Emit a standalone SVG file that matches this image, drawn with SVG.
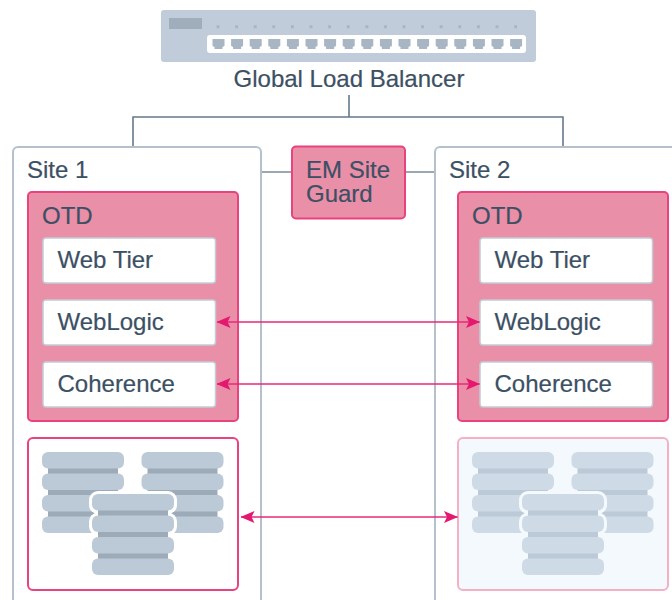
<svg xmlns="http://www.w3.org/2000/svg" width="672" height="600" viewBox="0 0 672 600">
<style>
text{font-family:"Liberation Sans",Arial,sans-serif;font-size:24px;fill:#3c5064;stroke:#3c5064;stroke-width:.2}
.conn{fill:none;stroke:#66788a;stroke-width:1.6}
.conn2{fill:none;stroke:#9aa8b5;stroke-width:2}
.site{fill:#fff;stroke:#b4c0cc;stroke-width:2}
.otd{fill:#ea8fa8;stroke:#e8437e;stroke-width:2}
.tier{fill:#fff;stroke:#c3ccd6;stroke-width:1.5}
.arr{fill:none;stroke:#e8287a;stroke-width:1.5;marker-start:url(#h);marker-end:url(#h)}
.d{fill:#bccad7}.s{fill:#9dabb9}
.dl{fill:#cedae5}.sl{fill:#bccad7}
</style>
<defs>
<marker id="h" viewBox="0 0 14 12" refX="13.500" refY="6" markerWidth="14" markerHeight="12" markerUnits="userSpaceOnUse" orient="auto-start-reverse"><path d="M0 0L14 6L0 12L3 6Z" fill="#e4186f"/></marker>
<g id="stack"><rect x="6" y="14" width="70" height="58" class="s"/><rect width="82" height="16.500" y="0" rx="6" class="d"/><rect width="82" height="16.500" y="21.500" rx="6" class="d"/><rect width="82" height="16.500" y="43" rx="6" class="d"/><rect width="82" height="16.500" y="64.500" rx="6" class="d"/></g>
<g id="stackl"><rect x="6" y="14" width="70" height="58" class="sl"/><rect width="82" height="16.500" y="0" rx="6" class="dl"/><rect width="82" height="16.500" y="21.500" rx="6" class="dl"/><rect width="82" height="16.500" y="43" rx="6" class="dl"/><rect width="82" height="16.500" y="64.500" rx="6" class="dl"/></g>
</defs>
<g id="connectors"><path class="conn" d="M349 95V117M133 147V117H563V147"/><path class="conn2" d="M261 172H292M405 172H436"/></g>
<g id="site-1"><rect class="site" x="13" y="147" width="248" height="470" rx="5"/><text x="27" y="178">Site 1</text></g>
<g id="site-2"><rect class="site" x="435" y="147" width="248" height="470" rx="5"/><text x="449" y="178">Site 2</text></g>
<g id="lb"><rect x="161" y="10" width="375" height="52" rx="3" fill="#c0ccd9"/><rect x="169" y="18" width="33" height="11" fill="#a0aebc"/><rect x="207" y="35" width="319" height="18" rx="3" fill="#fff"/>
<path fill="#a8b6c4" d="M212.500 39h12v7l-2 1v2h-8v-2l-2-1zm18.600 0h12v7l-2 1v2h-8v-2l-2-1zm18.600 0h12v7l-2 1v2h-8v-2l-2-1zm18.600 0h12v7l-2 1v2h-8v-2l-2-1zm18.600 0h12v7l-2 1v2h-8v-2l-2-1zm18.600 0h12v7l-2 1v2h-8v-2l-2-1zm18.600 0h12v7l-2 1v2h-8v-2l-2-1zm18.600 0h12v7l-2 1v2h-8v-2l-2-1zm18.600 0h12v7l-2 1v2h-8v-2l-2-1zm18.600 0h12v7l-2 1v2h-8v-2l-2-1zm18.600 0h12v7l-2 1v2h-8v-2l-2-1zm18.600 0h12v7l-2 1v2h-8v-2l-2-1zm18.600 0h12v7l-2 1v2h-8v-2l-2-1zm18.600 0h12v7l-2 1v2h-8v-2l-2-1zm18.600 0h12v7l-2 1v2h-8v-2l-2-1zm18.600 0h12v7l-2 1v2h-8v-2l-2-1zm18.600 0h12v7l-2 1v2h-8v-2l-2-1z"/>
<path stroke="#a8b6c4" stroke-width="3" stroke-dasharray="3 15.600" d="M216.500 26.800H520"/>
<text x="349" y="87" text-anchor="middle">Global Load Balancer</text></g>
<g id="em"><rect class="otd" x="292" y="146.500" width="113" height="72" rx="4"/><text x="306" y="178">EM Site</text><text x="306" y="202">Guard</text></g>
<g id="otd-1"><rect class="otd" x="28" y="192" width="210" height="229" rx="4"/><text x="42" y="224">OTD</text></g>
<g id="otd-2"><rect class="otd" x="458" y="192" width="210" height="229" rx="4"/><text x="472" y="224">OTD</text></g>
<g id="t1"><rect class="tier" x="43" y="238" width="172.500" height="45" rx="3"/><text x="57.500" y="268">Web Tier</text></g>
<g id="t2"><rect class="tier" x="43" y="300" width="172.500" height="45" rx="3"/><text x="57.500" y="330">WebLogic</text></g>
<g id="t3"><rect class="tier" x="43" y="362" width="172.500" height="45" rx="3"/><text x="57.500" y="392">Coherence</text></g>
<g id="t4"><rect class="tier" x="480" y="238" width="172.500" height="45" rx="3"/><text x="494.500" y="268">Web Tier</text></g>
<g id="t5"><rect class="tier" x="480" y="300" width="172.500" height="45" rx="3"/><text x="494.500" y="330">WebLogic</text></g>
<g id="t6"><rect class="tier" x="480" y="362" width="172.500" height="45" rx="3"/><text x="494.500" y="392">Coherence</text></g>
<g id="db-1"><rect x="28" y="438" width="210" height="152" rx="5" fill="#fff" stroke="#e8437e" stroke-width="2"/><use href="#stack" x="42" y="452"/><use href="#stack" x="141.500" y="452"/><rect x="89" y="491" width="88" height="23" rx="9" fill="#fff"/><rect x="89" y="512.500" width="88" height="23" rx="9" fill="#fff"/><use href="#stack" x="92" y="494"/></g>
<g id="db-2"><rect x="458" y="438" width="210" height="152" rx="5" fill="#f4f9fd" stroke="#f4b1c6" stroke-width="2"/><use href="#stackl" x="472" y="452"/><use href="#stackl" x="571.500" y="452"/><rect x="519" y="491" width="88" height="23" rx="9" fill="#f4f9fd"/><rect x="519" y="512.500" width="88" height="23" rx="9" fill="#f4f9fd"/><use href="#stackl" x="522" y="494"/></g>
<g id="links"><path class="arr" d="M217 322H479.500"/><path class="arr" d="M217 384H479.500"/><path class="arr" d="M241 517H457.500"/></g>
</svg>
